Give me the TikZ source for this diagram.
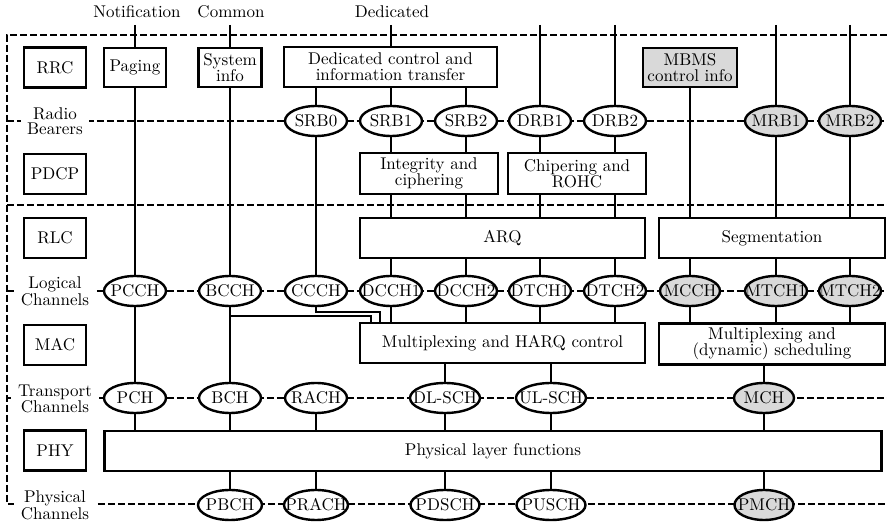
\documentclass[tikz,border=0pt]{standalone}
\usetikzlibrary{shapes.geometric}
% text of a channel node does not widen its ellipse
\newcommand{\chtxt}[1]{\makebox[0pt]{#1}}
\begin{document}
\begin{tikzpicture}[x=0.6pt,y=-0.6pt,
  every node/.style={font=\fontsize{10.2}{9.8}\selectfont},
  conn/.style={line width=1.35pt},
  level/.style={line width=1.35pt,dash pattern=on 4pt off 2pt},
  box/.style={draw,fill=white,line width=1.45pt,rectangle,inner sep=0pt,align=center},
  layerbox/.style={box,minimum width=37.2pt,minimum height=24pt},
  chan/.style={draw,fill=white,line width=1.45pt,ellipse,inner sep=0pt,
    minimum width=37.2pt,minimum height=18pt},
  mbmsfill/.style={fill=black!15},
  rowlabel/.style={fill=white,align=center,inner xsep=4pt,inner ysep=1pt,
    font=\fontsize{10.2}{9.2}\selectfont},
]
\useasboundingbox (0,0) rectangle (887,522);

% protocol level separators and channel rows
\draw[level] (887,35) -- (7,35) -- (7,504) -- (887,504);
\draw[level] (7,205) -- (887,205);
\draw[level] (7,121) -- (887,121);
\draw[level] (7,291) -- (887,291);
\draw[level] (7,398) -- (887,398);

% row labels
\node[rowlabel] (lrb) at (55,121) {Radio\\Bearers};
\node[rowlabel] (llc) at (55,291) {Logical\\Channels};
\node[rowlabel] (ltc) at (55,399) {Transport\\Channels};
\node[rowlabel] (lpc) at (55,505) {Physical\\Channels};

% protocol layers
\node[layerbox] (rrc)  at (55,67.5) {RRC};
\node[layerbox] (pdcp) at (55,174) {PDCP};
\node[layerbox] (rlc)  at (55,238) {RLC};
\node[layerbox] (mac)  at (55,345) {MAC};
\node[layerbox] (phy)  at (55,450.5) {PHY};

% top labels
\node (notif) at (137,12) {Notification};
\node (common) at (231,12) {Common};
\node (dedl) at (392,12) {Dedicated};
\coordinate (top) at (0,25);

% RRC functions
\node[box,minimum width=37.2pt,minimum height=23.4pt] (paging) at (135,67.5) {Paging};
\node[box,minimum width=37.8pt,minimum height=23.4pt] (sysinfo) at (230,67.5) {System\\info};
\node[box,minimum width=127.8pt,minimum height=24pt] (dedic) at (390.5,67) {Dedicated control and\\information transfer};
\node[box,mbmsfill,minimum width=56.4pt,minimum height=23.4pt] (mbms) at (690,67.5) {MBMS\\control info};

% radio bearers
\node[chan] (srb0) at (316,121) {\chtxt{SRB0}};
\node[chan] (srb1) at (391,121) {\chtxt{SRB1}};
\node[chan] (srb2) at (466,121) {\chtxt{SRB2}};
\node[chan] (drb1) at (540,121) {\chtxt{DRB1}};
\node[chan] (drb2) at (615,121) {\chtxt{DRB2}};
\node[chan,mbmsfill] (mrb1) at (776,121) {\chtxt{MRB1}};
\node[chan,mbmsfill] (mrb2) at (850,121) {\chtxt{MRB2}};

% PDCP functions
\node[box,minimum width=82.8pt,minimum height=24.6pt] (integ) at (429,173.5) {Integrity and\\ciphering};
\node[box,minimum width=82.8pt,minimum height=24.6pt] (chip) at (577,173.5) {Chipering and\\ROHC};

% RLC functions
\node[box,minimum width=171pt,minimum height=24pt] (arq) at (502.5,238) {ARQ};
\node[box,minimum width=135.6pt,minimum height=24pt] (seg) at (772,238) {Segmentation};

% logical channels
\node[chan] (pcch) at (135,291) {\chtxt{PCCH}};
\node[chan] (bcch) at (230,291) {\chtxt{BCCH}};
\node[chan] (ccch) at (316,291) {\chtxt{CCCH}};
\node[chan] (dcch1) at (391,291) {\chtxt{DCCH1}};
\node[chan] (dcch2) at (466,291) {\chtxt{DCCH2}};
\node[chan] (dtch1) at (540,291) {\chtxt{DTCH1}};
\node[chan] (dtch2) at (615,291) {\chtxt{DTCH2}};
\node[chan,mbmsfill,minimum width=36pt] (mcch) at (690,291) {\chtxt{MCCH}};
\node[chan,mbmsfill] (mtch1) at (776,291) {\chtxt{MTCH1}};
\node[chan,mbmsfill] (mtch2) at (850,291) {\chtxt{MTCH2}};

% MAC functions
\node[box,minimum width=171pt,minimum height=24pt] (harq) at (502.5,343) {Multiplexing and HARQ control};
\node[box,minimum width=135.6pt,minimum height=24.6pt] (sched) at (772,344) {Multiplexing and\\(dynamic) scheduling};

% transport channels
\node[chan] (pch) at (135,398) {\chtxt{PCH}};
\node[chan] (bch) at (230,398) {\chtxt{BCH}};
\node[chan] (rach) at (316,398) {\chtxt{RACH}};
\node[chan,minimum width=42pt] (dlsch) at (445,398) {\chtxt{DL-SCH}};
\node[chan,minimum width=42pt] (ulsch) at (551,398) {\chtxt{UL-SCH}};
\node[chan,mbmsfill,minimum width=36pt] (mch) at (764,398) {\chtxt{MCH}};

% physical layer
\node[box,minimum width=466pt,minimum height=24pt] (phyf) at (493,451) {Physical layer functions};

% physical channels
\node[chan,minimum width=38.4pt] (pbch) at (230,505) {\chtxt{PBCH}};
\node[chan,minimum width=38.4pt] (prach) at (316,505) {\chtxt{PRACH}};
\node[chan,minimum width=41.4pt] (pdsch) at (445,505) {\chtxt{PDSCH}};
\node[chan,minimum width=41.4pt] (pusch) at (551,505) {\chtxt{PUSCH}};
\node[chan,mbmsfill,minimum width=35.4pt] (pmch) at (764,505) {\chtxt{PMCH}};

% paging path
\draw[conn] (paging |- top) -- (paging);
\draw[conn] (paging) -- (pcch);
\draw[conn] (pcch) -- (pch);
\draw[conn] (pch) -- (pch |- phyf.north);

% system information path
\draw[conn] (sysinfo |- top) -- (sysinfo);
\draw[conn] (sysinfo) -- (bcch);
\draw[conn] (bcch) -- (bch);
\draw[conn] (bch) -- (bch |- phyf.north);
\draw[conn] (bch |- phyf.south) -- (pbch);
\coordinate (bj) at (230,316);
\draw[conn] (bj) -| ([xshift=7.2pt]harq.north west);

% dedicated signalling
\draw[conn] (srb1 |- top) -- (srb1 |- dedic.north);
\draw[conn] (srb0 |- dedic.south) -- (srb0);
\draw[conn] (srb1 |- dedic.south) -- (srb1);
\draw[conn] (srb2 |- dedic.south) -- (srb2);
\draw[conn] (srb0) -- (ccch);
\draw[conn] (ccch.south) -- ++(0,5) -| ([xshift=12.6pt]harq.north west);
\foreach \rb/\lc in {srb1/dcch1,srb2/dcch2} {
  \draw[conn] (\rb) -- (\rb |- integ.north);
  \draw[conn] (\rb |- integ.south) -- (\rb |- arq.north);
  \draw[conn] (\rb |- arq.south) -- (\lc);
  \draw[conn] (\lc) -- (\lc |- harq.north);
}

% dedicated data
\foreach \rb/\lc in {drb1/dtch1,drb2/dtch2} {
  \draw[conn] (\rb |- top) -- (\rb);
  \draw[conn] (\rb) -- (\rb |- chip.north);
  \draw[conn] (\rb |- chip.south) -- (\rb |- arq.north);
  \draw[conn] (\rb |- arq.south) -- (\lc);
  \draw[conn] (\lc) -- (\lc |- harq.north);
}

% MBMS
\draw[conn] (mbms) -- (mbms |- seg.north);
\draw[conn] (mcch |- seg.south) -- (mcch);
\draw[conn] (mcch) -- (mcch |- sched.north);
\foreach \rb/\lc in {mrb1/mtch1,mrb2/mtch2} {
  \draw[conn] (\rb |- top) -- (\rb);
  \draw[conn] (\rb) -- (\rb |- seg.north);
  \draw[conn] (\rb |- seg.south) -- (\lc);
  \draw[conn] (\lc) -- (\lc |- sched.north);
}

% transport to physical
\draw[conn] (rach) -- (rach |- phyf.north);
\draw[conn] (rach |- phyf.south) -- (prach);
\foreach \tc/\pc in {dlsch/pdsch,ulsch/pusch} {
  \draw[conn] (\tc |- harq.south) -- (\tc);
  \draw[conn] (\tc) -- (\tc |- phyf.north);
  \draw[conn] (\tc |- phyf.south) -- (\pc);
}
\draw[conn] (mch |- sched.south) -- (mch);
\draw[conn] (mch) -- (mch |- phyf.north);
\draw[conn] (mch |- phyf.south) -- (pmch);
\end{tikzpicture}
\end{document}
